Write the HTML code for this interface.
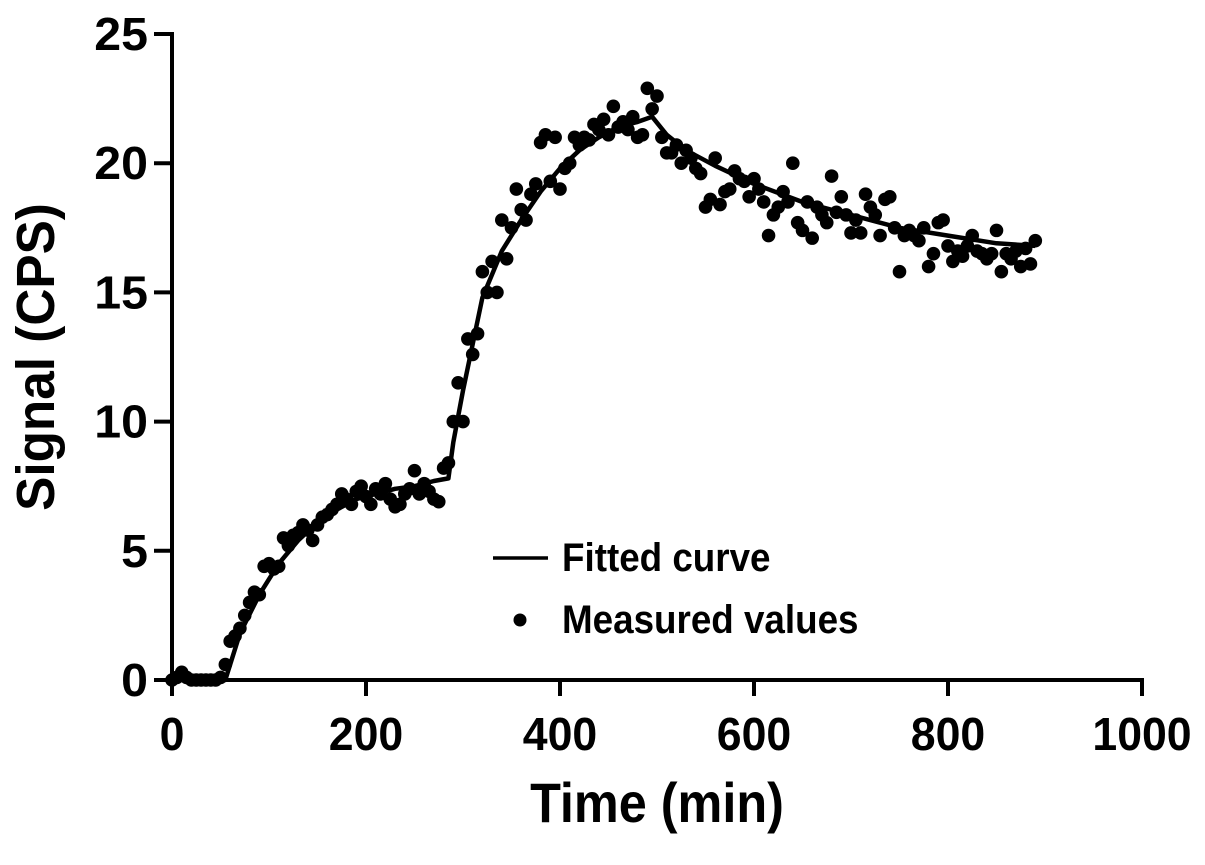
<!DOCTYPE html>
<html><head><meta charset="utf-8"><style>
html,body{margin:0;padding:0;background:#fff;}
svg text{font-family:"Liberation Sans Narrow","Liberation Sans",sans-serif;font-weight:bold;fill:#000;}
</style></head><body>
<svg id="chart" width="1205" height="860" viewBox="0 0 1205 860" xmlns="http://www.w3.org/2000/svg">
<g id="axes"></g><g id="series"></g>
<g>
<line x1="493" y1="558" x2="548" y2="558" stroke="#000" stroke-width="3.5"/>
<text transform="translate(562,571) scale(0.92,1)" font-size="40">Fitted curve</text>
<circle cx="520" cy="620" r="6.5" fill="#000"/>
<text transform="translate(562,633) scale(0.92,1)" font-size="40">Measured values</text>
</g>
<text transform="translate(657,822) scale(0.9,1)" font-size="56" text-anchor="middle">Time (min)</text>
<text transform="translate(54,357) rotate(-90) scale(0.95,1)" font-size="54" text-anchor="middle">Signal (CPS)</text>
</svg>
<script>
const xTicks=[0,200,400,600,800,1000];
const yTicks=[0,5,10,15,20,25];
const measuredX=[0,5,10,15,20,25,30,35,40,45,50,55,60,65,70,75,80,85,90,95,100,105,110,115,120,125,130,135,140,145,150,155,160,165,170,175,180,185,190,195,200,205,210,215,220,225,230,235,240,245,250,255,260,265,270,275,280,285,290,295,300,305,310,315,320,325,330,335,340,345,350,355,360,365,370,375,380,385,390,395,400,405,410,415,420,425,430,435,440,445,450,455,460,465,470,475,480,485,490,495,500,505,510,515,520,525,530,535,540,545,550,555,560,565,570,575,580,585,590,595,600,605,610,615,620,625,630,635,640,645,650,655,660,665,670,675,680,685,690,695,700,705,710,715,720,725,730,735,740,745,750,755,760,765,770,775,780,785,790,795,800,805,810,815,820,825,830,835,840,845,850,855,860,865,870,875,880,885,890];
const measuredY=[0,0.1,0.3,0.1,0,0,0,0,0,0,0.1,0.6,1.5,1.7,2.0,2.5,3.0,3.4,3.3,4.4,4.5,4.3,4.4,5.5,5.2,5.6,5.7,6.0,5.8,5.4,6.0,6.3,6.4,6.6,6.8,7.2,7.0,6.8,7.3,7.5,7.1,6.8,7.4,7.2,7.6,7.0,6.7,6.8,7.2,7.4,8.1,7.2,7.6,7.3,7.0,6.9,8.2,8.4,10.0,11.5,10.0,13.2,12.6,13.4,15.8,15.0,16.2,15.0,17.8,16.3,17.5,19.0,18.2,17.8,18.8,19.2,20.8,21.1,19.3,21.0,19.0,19.8,20.0,21.0,20.7,21.0,20.9,21.5,21.3,21.7,21.1,22.2,21.4,21.6,21.3,21.8,21.0,21.1,22.9,22.1,22.6,21.0,20.4,20.4,20.7,20.0,20.5,20.2,19.8,19.6,18.3,18.6,20.2,18.4,18.9,19.0,19.7,19.4,19.3,18.7,19.4,19.0,18.5,17.2,18.0,18.3,18.9,18.5,20.0,17.7,17.4,18.5,17.1,18.3,18.0,17.7,19.5,18.1,18.7,18.0,17.3,17.8,17.3,18.8,18.3,18.0,17.2,18.6,18.7,17.5,15.8,17.2,17.4,17.2,17.0,17.5,16.0,16.5,17.7,17.8,16.8,16.2,16.6,16.4,16.8,17.2,16.6,16.5,16.3,16.5,17.4,15.8,16.5,16.3,16.6,16.0,16.7,16.1,17.0];
const fitX=[0,55,70,90,110,130,150,170,190,210,230,250,270,285,290,300,310,320,340,360,380,400,420,440,460,480,495,510,530,560,600,650,700,750,800,850,890];
const fitY=[0,0,1.8,3.3,4.5,5.4,6.1,6.6,7.0,7.2,7.4,7.5,7.7,7.8,9.2,11.2,13.0,14.8,16.6,17.8,18.9,19.8,20.5,21.0,21.4,21.6,21.8,21.1,20.5,19.9,19.2,18.5,18.0,17.5,17.2,16.9,16.8];
const NS="http://www.w3.org/2000/svg";
const X0=172,X1=1142,Y0=680,Y1=34;
const xs=v=>X0+(v/1000)*(X1-X0);
const ys=v=>Y0-(v/25)*(Y0-Y1);
const axes=document.getElementById('axes'),series=document.getElementById('series');
function mk(tag,attrs,parent){const e=document.createElementNS(NS,tag);for(const k in attrs)e.setAttribute(k,attrs[k]);parent.appendChild(e);return e;}
let e=mk('line',{x1:X0,y1:Y1-2,x2:X0,y2:Y0+2,stroke:'#000','stroke-width':4},axes);


e=mk('line',{x1:X0-2,y1:Y0,x2:X1+2,y2:Y0,stroke:'#000','stroke-width':4},axes);


xTicks.forEach(t=>{
  let l=mk('line',{x1:xs(t),y1:Y0,x2:xs(t),y2:Y0+16,stroke:'#000','stroke-width':4},axes);
  
  
  let tx=mk('text',{transform:'translate('+xs(t)+',750) scale(0.97,1)','font-size':46,'text-anchor':'middle'},axes);
  tx.textContent=t;
  
  
});
yTicks.forEach(t=>{
  let l=mk('line',{x1:X0-18,y1:ys(t),x2:X0,y2:ys(t),stroke:'#000','stroke-width':4},axes);
  
  
  let tx=mk('text',{transform:'translate(148,'+(ys(t)+16)+') scale(1.05,1)','font-size':46,'text-anchor':'end'},axes);
  tx.textContent=t;
  
  
});
let d=fitX.map((x,i)=>(i?'L':'M')+xs(x).toFixed(1)+' '+ys(fitY[i]).toFixed(1)).join(' ');
let p=mk('path',{d:d,fill:'none',stroke:'#000','stroke-width':4.5,'stroke-linejoin':'round'},series);


measuredX.forEach((x,i)=>{
  let c=mk('circle',{cx:xs(x),cy:ys(measuredY[i]),r:6.8,fill:'#000'},series);
  
  
});
</script>
</body></html>
